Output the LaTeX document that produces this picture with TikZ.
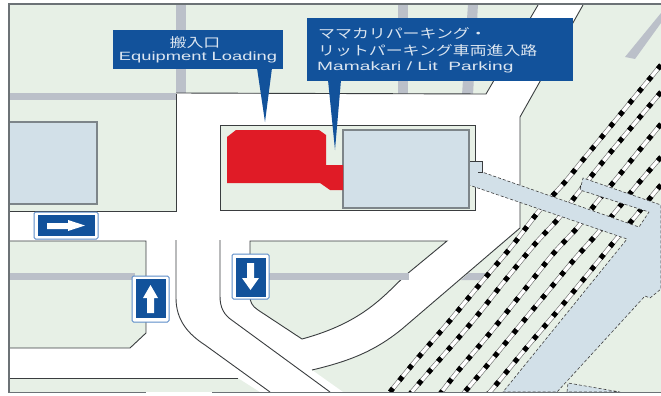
\documentclass[tikz,border=0pt]{standalone}
\usepackage{fontspec}
\setmainfont{Liberation Sans}
\newfontfamily\cjkf{Noto Sans CJK JP}
\definecolor{land}{HTML}{E7F0E6}
\definecolor{street}{HTML}{BBC0C9}
\definecolor{bldg}{HTML}{D2E0E8}
\definecolor{bldgline}{HTML}{7D8589}
\definecolor{frameline}{HTML}{6C7276}
\definecolor{roadline}{HTML}{3A3D3F}
\definecolor{callout}{HTML}{12529B}
\definecolor{calltext}{HTML}{DCE6F1}
\definecolor{signedge}{HTML}{5C8CC8}
\definecolor{redb}{HTML}{E01B26}
\newcommand\jtext[1]{\scalebox{1.3}[1]{\cjkf\fontsize{13}{13}\selectfont #1}}
\newcommand\ltext[2]{\scalebox{#1}[1]{\fontsize{12}{12}\selectfont #2}}
\newcommand\rail[1]{\draw[railbase] plot[smooth] coordinates {#1};\draw[railwhite] plot[smooth] coordinates {#1};\draw[railblack] plot[smooth] coordinates {#1};}
\tikzset{
 railbase/.style={draw=black!55,line width=4.6pt},
 railwhite/.style={draw=white,line width=3.3pt},
 railblack/.style={draw=black,line width=5pt,dash pattern=on 5pt off 10pt},
 roadedge/.style={draw=roadline,line width=0.9pt},
 streetfill/.style={fill=street,draw=none},
 building/.style={fill=bldg,draw=bldgline,line width=1.1pt},
 bluedash/.style={fill=bldg,draw=black!75,line width=0.6pt,densely dashed},
 signouter/.style={draw=signedge,fill=white,line width=1pt,rounded corners=1.5pt},
 signinner/.style={fill=callout,draw=none},
 signarrow/.style={fill=white,draw=none},
 calloutbox/.style={fill=callout,draw=none},
 calltxt/.style={text=calltext,inner sep=0pt},
}
\begin{document}
\begin{tikzpicture}[x=1pt,y=-1pt]
\useasboundingbox (0,0) rectangle (661,396);
\fill[white] (0,0) rectangle (661,396);
\fill[land] (9,4) rectangle (661,392);
% streets above the roads
\fill[streetfill] (176,4) rectangle (186,95);
\fill[streetfill] (9,93) rectangle (178,100);
\fill[streetfill] (398,4) rectangle (408,95);
\fill[streetfill] (468,4) -- (478,4) -- (473,95) -- (462,95) -- cycle;
\fill[streetfill] (625,57) -- (635,59) -- (661,23) -- (661,13) -- cycle;
% roads
\fill[white] (9,211) -- (176,211) -- (176,93) -- (486,94) -- (538,4) -- (583,4) -- (520,117) -- (520,228) -- (402,329) .. controls (375,351) and (350,361) .. (312,370) -- (343,392) -- (260,392) -- (238,378) -- (9,378) -- (9,348) -- (130,348) -- (146,333) -- (146,241) -- (9,241) -- cycle;
% island
\filldraw[fill=land,roadedge] (250,241) -- (447,241) -- (407,274) .. controls (385,294) and (365,322) .. (302,339) -- (258,310) .. controls (252,306) and (250,302) .. (250,296) -- cycle;
% side street cut across the island and the track bed
\fill[streetfill] (9,273) rectangle (135,280);
\fill[streetfill] (250,273) rectangle (409,280);
\fill[streetfill] (469,273) -- (486,273) -- (480,280) -- (461,280) -- cycle;
% road edges
\draw[roadedge] (176,94) -- (176,211) -- (9,211);
\draw[roadedge] (176,93) -- (486,94) -- (538,5);
\draw[roadedge] (583,5) -- (520,117) -- (520,228) -- (402,329) .. controls (375,351) and (350,361) .. (312,370);
\draw[roadedge] (9,241) -- (146,241) -- (146,333) -- (130,348) -- (9,348);
\draw[roadedge] (9,378) -- (238,378);
\draw[roadedge] (176,240) -- (176,298) .. controls (176,320) and (188,334) .. (205,345) -- (270,392);
\draw[roadedge] (220,240) -- (220,296) .. controls (220,308) and (224,315) .. (233,321) -- (330,392);
% building lot
\filldraw[fill=land,draw=roadline,line width=1pt] (220,125) rectangle (475,210);
% tracks
\begin{scope}
\clip (9,4) rectangle (661,392);
\rail{(661,65) (587,155) (565,182) (539,211) (512,246) (480,284) (447,324) (417,359) (390,392)}
\rail{(661,92) (610,153) (578,193) (558,219) (535,244) (503,283) (472,322) (428,373) (410,394)}
\rail{(661,124) (638,152) (617,178) (597,202) (577,228) (553,254) (522,293) (490,333) (458,371) (440,394)}
\rail{(661,157) (637,185) (616,211) (596,235) (573,261) (540,301) (508,340) (485,368) (463,394)}
\rail{(661,185) (655,192) (634,218) (613,243) (592,269) (560,308) (527,347) (495,386) (488,394)}
\end{scope}
% concourse, walkway and canal band
\filldraw[bluedash] (469,172) -- (482,172) -- (639,227) -- (649,212) -- (580,190) -- (583,178) -- (661,205) -- (661,289) -- (650,298) -- (645,296) -- (557,392) -- (503,392) -- (627,239) -- (469,185) -- cycle;
\filldraw[bluedash] (567,392) -- (568,383) -- (620,392) -- cycle;
\filldraw[fill=bldg,draw=roadline,line width=0.8pt] (468,161) -- (482,161) -- (482,172) -- (468,172);
\fill[bldg] (469,172) rectangle (478,185);
% left and main buildings
\filldraw[building] (9,122) rectangle (97,204);
\filldraw[building] (343,130) rectangle (469,208);
% loading area
\fill[redb] (227,137) -- (236,130) -- (319,130) -- (326,135) -- (326,165) -- (343,165) -- (343,190) -- (330,190) -- (320,183) -- (227,183) -- cycle;
% frame
\draw[frameline,line width=1.2pt] (9,4) -- (661,4);
\draw[frameline,line width=2.4pt] (9,3.4) -- (9,393);
\draw[frameline,line width=1.4pt] (9,392.5) -- (146,392.5);
\draw[frameline,line width=1.4pt] (212,392.5) -- (661,392.5);
% callouts
\fill[calloutbox] (113,30) rectangle (283,69);
\fill[calloutbox] (257,68) -- (272,68) -- (265,122) -- cycle;
\fill[calloutbox] (307,18) rectangle (573,81);
\fill[calloutbox] (328,80) -- (341,80) -- (335,150) -- cycle;
\node[calltxt] (loadja) at (195,43) {\jtext{搬入口}};
\node[calltxt] (loaden) at (198,57) {\ltext{1.53}{Equipment Loading}};
\node[calltxt,anchor=west] (parkja) at (318,33) {\jtext{ママカリパーキング・}};
\node[calltxt,anchor=west] (parkjb) at (318,51) {\jtext{リットパーキング車両進入路}};
\node[calltxt,anchor=west] (parken) at (317,67) {\ltext{1.6}{Mamakari / Lit\ \ Parking}};
% signs
\draw[signouter] (34,212) rectangle (98,239);
\fill[signinner] (38,215) rectangle (95,236);
\fill[signarrow] (47,223) -- (68,223) -- (68,220) -- (85,225.5) -- (68,231) -- (68,229) -- (47,229) -- cycle;
\draw[signouter] (132,276) rectangle (169,322);
\fill[signinner] (136,279) rectangle (166,318);
\fill[signarrow] (147,313) -- (147,298) -- (143,298) -- (150.5,285) -- (158,298) -- (154,298) -- (154,313) -- cycle;
\draw[signouter] (232,254) rectangle (269,299);
\fill[signinner] (236,258) rectangle (266,297);
\fill[signarrow] (247,263) -- (254,263) -- (254,278) -- (259,278) -- (250.5,290) -- (242,278) -- (247,278) -- cycle;
\end{tikzpicture}
\end{document}
